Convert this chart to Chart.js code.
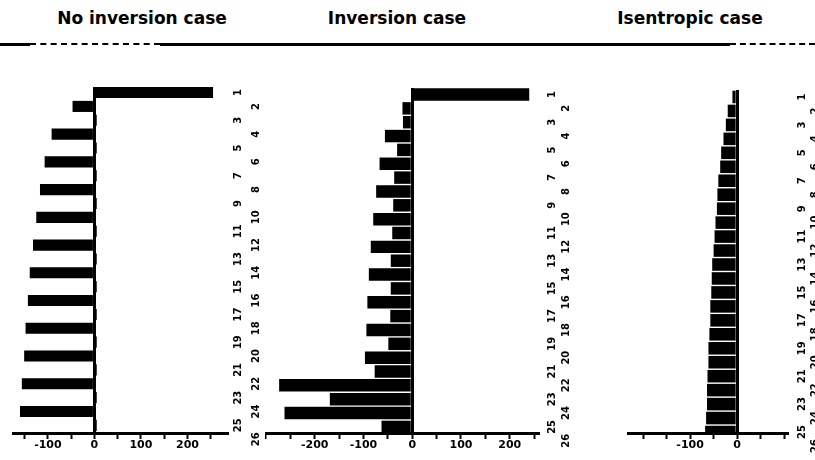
<!DOCTYPE html>
<html>
<head>
<meta charset="utf-8">
<script src="https://cdn.jsdelivr.net/npm/chart.js@4.4.1/dist/chart.umd.min.js"></script>
<style>
  html, body { margin: 0; padding: 0; background: #fff; }
  #page { position: relative; width: 815px; height: 460px; overflow: hidden; background: #fff; }
  .title {
    position: absolute; top: 5px; width: 260px; text-align: center;
    font-family: "DejaVu Sans", Lato, sans-serif; font-weight: bold;
    font-size: 17px; line-height: 26px; color: #000; white-space: nowrap;
  }
  .rule { position: absolute; top: 43px; height: 0; border-top: 3px solid #000; }
  .rule.broken { border-top-style: dashed; border-top-width: 2px; }
  .panel { position: absolute; top: 0; height: 460px; }
  canvas { display: block; }
</style>
</head>
<body>
<div id="page">
  <div class="title" style="left:12px">No inversion case</div>
  <div class="title" style="left:267px">Inversion case</div>
  <div class="title" style="left:560px">Isentropic case</div>

  <div class="rule" style="left:0;width:30px"></div>
  <div class="rule broken" style="left:30px;width:130px"></div>
  <div class="rule" style="left:160px;width:570px"></div>
  <div class="rule broken" style="left:730px;width:85px"></div>

  <div class="panel" style="left:0;width:265px"><canvas id="c1" width="265" height="460"></canvas></div>
  <div class="panel" style="left:265px;width:310px"><canvas id="c2" width="310" height="460"></canvas></div>
  <div class="panel" style="left:575px;width:240px"><canvas id="c3" width="240" height="460"></canvas></div>
</div>

<script>
// Vertical levels (rows, top to bottom)
const levels = [1, 2, 3, 4, 5, 6, 7, 8, 9, 10, 11, 12, 13, 14, 15, 16, 17, 18, 19, 20, 21, 22, 23, 24, 25];

// Level tick labels on the right, split into two staggered columns
const oddLevelLabels = [1, 3, 5, 7, 9, 11, 13, 15, 17, 19, 21, 23, 25];
const evenLevelLabels = [2, 4, 6, 8, 10, 12, 14, 16, 18, 20, 22, 24, 26];

// Values per level for each case
const noInversionValues = [255, -47, 5, -92, 5, -107, 5, -117, 5, -125, 5, -132, 5,
                           -139, 5, -143, 5, -148, 5, -151, 5, -156, 5, -160, 5];
const inversionValues = [240, -20, -19, -56, -31, -67, -37, -74, -39, -80, -41, -85, -44,
                         -89, -44, -92, -45, -94, -49, -97, -77, -273, -169, -262, -63];
const isentropicValues = [-10, -20, -24, -29, -34, -36, -40, -42, -43, -46, -48, -50, -53,
                          -54, -55, -57, -57, -59, -61, -61, -63, -64, -64, -66, -68];

// Horizontal axis tick marks and the ones that carry a label
const noInversionTicks = [-150, -100, -50, 0, 50, 100, 150, 200, 250];
const noInversionTickLabels = [-100, 0, 100, 200];
const inversionTicks = [-300, -250, -200, -150, -100, -50, 0, 50, 100, 150, 200, 250];
const inversionTickLabels = [-200, -100, 0, 100, 200];
const isentropicTicks = [-200, -150, -100, -50, 0, 50, 100];
const isentropicTickLabels = [-100, 0];

const HEAVY = '"DejaVu Sans", Lato, sans-serif';

function buildPanel(canvasId, values, ticks, tickLabels, cfg) {
  const points = levels.map((lv, i) => ({ x: values[i], y: lv }));

  // Right-hand level axis showing one column of the staggered labels
  const levelAxis = (labels, pad, width) => ({
    type: 'linear',
    position: 'right',
    reverse: true,
    offset: false,
    min: cfg.yMin,
    max: cfg.yMax,
    grid: { display: false, drawTicks: false },
    border: { display: false },
    ticks: {
      autoSkip: false,
      minRotation: 90,
      maxRotation: 90,
      crossAlign: 'center',
      padding: pad,
      color: '#000',
      font: { family: HEAVY, weight: 'bold', size: 10 }
    },
    afterBuildTicks: s => { s.ticks = labels.map(v => ({ value: v })); },
    afterFit: s => { s.width = width; }
  });

  return new Chart(document.getElementById(canvasId), {
    type: 'bar',
    data: {
      datasets: [{
        data: points,
        backgroundColor: '#000',
        borderWidth: 0,
        barPercentage: cfg.barPct,
        categoryPercentage: 1,
        yAxisID: 'y'
      }]
    },
    options: {
      indexAxis: 'y',
      responsive: false,
      animation: false,
      events: [],
      layout: { padding: { left: cfg.padLeft, top: cfg.padTop, right: 0, bottom: 0 } },
      plugins: { legend: { display: false }, tooltip: { enabled: false }, title: { display: false } },
      scales: {
        x: {
          type: 'linear',
          position: 'bottom',
          min: cfg.xMin,
          max: cfg.xMax,
          afterBuildTicks: s => { s.ticks = ticks.map(v => ({ value: v })); },
          afterFit: s => { s.height = 27; },
          grid: {
            drawOnChartArea: true,
            color: c => (c.tick && c.tick.value === 0) ? '#000' : 'rgba(0,0,0,0)',
            lineWidth: 3,
            drawTicks: true,
            tickLength: 6,
            tickColor: '#000',
            tickWidth: 2
          },
          border: { display: true, color: '#000', width: 3 },
          ticks: {
            autoSkip: false,
            maxRotation: 0,
            padding: 0,
            color: '#000',
            font: { family: HEAVY, weight: 'bold', size: 11 },
            callback: v => tickLabels.includes(v) ? String(v) : ''
          }
        },
        y: {
          type: 'linear',
          display: false,
          reverse: true,
          offset: false,
          min: cfg.yMin,
          max: cfg.yMax
        },
        yOdd: levelAxis(oddLevelLabels, cfg.oddPad, cfg.oddWidth),
        yEven: levelAxis(evenLevelLabels, cfg.evenPad, cfg.evenWidth)
      }
    }
  });
}

buildPanel('c1', noInversionValues, noInversionTicks, noInversionTickLabels, {
  xMin: -175, xMax: 285, yMin: 0.6, yMax: 25.55, padLeft: 13, padTop: 87,
  barPct: 0.8, oddPad: 4, oddWidth: 18, evenPad: 4, evenWidth: 20
});
buildPanel('c2', inversionValues, inversionTicks, inversionTickLabels, {
  xMin: -302, xMax: 258, yMin: 0.53, yMax: 25.44, padLeft: 0, padTop: 88,
  barPct: 0.9, oddPad: 7, oddWidth: 20, evenPad: 1, evenWidth: 17
});
buildPanel('c3', isentropicValues, isentropicTicks, isentropicTickLabels, {
  xMin: -232, xMax: 106, yMin: 0.5, yMax: 25.07, padLeft: 53, padTop: 90,
  barPct: 0.9, oddPad: 8, oddWidth: 21, evenPad: 0, evenWidth: 7
});
</script>
</body>
</html>
